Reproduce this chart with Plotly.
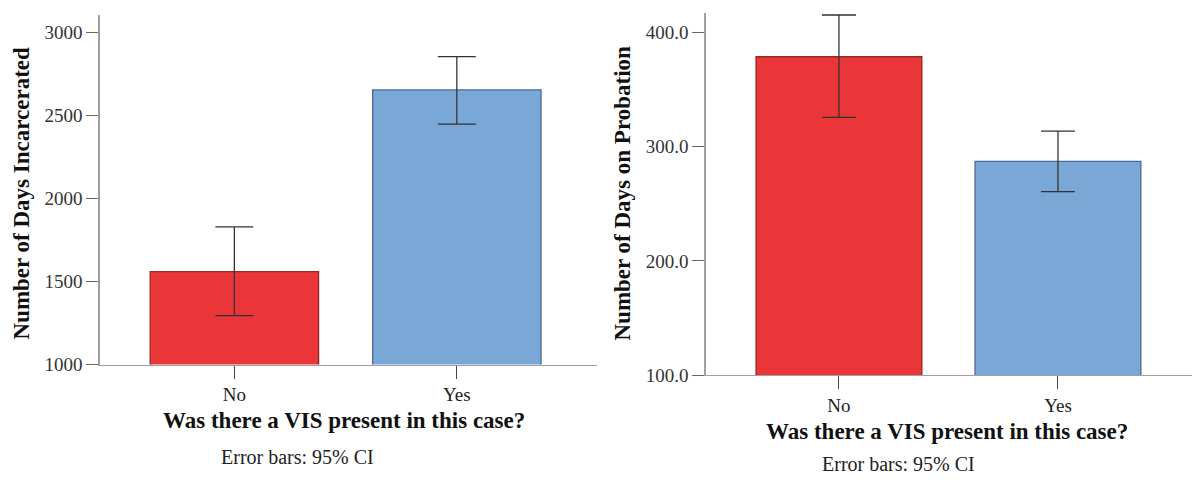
import plotly.graph_objects as go
from plotly.subplots import make_subplots

categories = ["No", "Yes"]
incarcerated_mean = [1559, 2653]
incarcerated_ci_low = [1294, 2447]
incarcerated_ci_high = [1829, 2853]
probation_mean = [378.5, 287.0]
probation_ci_low = [325.5, 260.5]
probation_ci_high = [415.0, 313.5]
bar_colors = ["rgb(234,54,56)", "rgb(121,167,214)"]
bar_edges = ["rgb(150,40,40)", "rgb(75,105,145)"]

W, H = 1192, 485
def px(x): return x / W
def py(y): return 1 - y / H

fig = make_subplots(rows=1, cols=2)
xs = [0, 1]

def add_bars(means, lo, hi, col, cap):
    fig.add_trace(go.Bar(
        x=xs, y=means, width=0.757,
        marker=dict(color=bar_colors, line=dict(color=bar_edges, width=1.3)),
        error_y=dict(type="data", symmetric=False,
                     array=[h - m for h, m in zip(hi, means)],
                     arrayminus=[m - l for l, m in zip(lo, means)],
                     color="#333333", thickness=1.3, width=cap),
        showlegend=False, hoverinfo="skip"), row=1, col=col)

add_bars(incarcerated_mean, incarcerated_ci_low, incarcerated_ci_high, 1, 19)
add_bars(probation_mean, probation_ci_low, probation_ci_high, 2, 17)

font = "Liberation Serif"
axis_col = "#a0a0a0"
common_x = dict(tickvals=xs, ticktext=categories, ticks="outside", ticklen=13,
                tickcolor="#444", tickwidth=1.3, showline=True, linecolor=axis_col,
                linewidth=1.3, showgrid=False, zeroline=False,
                tickfont=dict(family=font, size=19, color="#222"))
common_y = dict(ticks="outside", ticklen=12, tickcolor="#666", showline=True,
                linecolor=axis_col, linewidth=1.5, showgrid=False, zeroline=False,
                tickfont=dict(family=font, size=19, color="#333"))

fig.update_xaxes(domain=[px(100), px(597)], range=[-0.604, 1.63], **common_x, row=1, col=1)
fig.update_xaxes(domain=[px(706), px(1192)], range=[-0.607, 1.612], **common_x, row=1, col=2)
fig.update_yaxes(domain=[py(373), py(15)], range=[1000, 3106],
                 tickvals=[1000, 1500, 2000, 2500, 3000], **common_y, row=1, col=1)
fig.update_yaxes(domain=[py(384), py(13)], range=[100, 417],
                 tickvals=[100, 200, 300, 400], tickformat=".1f", **common_y, row=1, col=2)

def note(text, x, y, size, angle=0, color="#111"):
    return dict(text=text, x=px(x), y=py(y), textangle=angle,
                font=dict(family=font, size=size, color=color), showarrow=False,
                xref="paper", yref="paper", xanchor="center", yanchor="middle")

ann = [
    note("<b>Number of Days Incarcerated</b>", 22, 198, 23, -90),
    note("<b>Number of Days on Probation</b>", 623, 198, 23, -90),
    note("<b>Was there a VIS present in this case?</b>", 344, 430, 23),
    note("<b>Was there a VIS present in this case?</b>", 947, 442, 23),
    note("Error bars: 95% CI", 297, 468, 20, color="#222"),
    note("Error bars: 95% CI", 898, 475, 20, color="#222"),
]

fig.update_layout(width=W, height=H, margin=dict(l=0, r=0, t=0, b=0),
                  plot_bgcolor="white", paper_bgcolor="white",
                  annotations=ann)

fig.write_html("out.html", config={"displayModeBar": False},
               post_script="document.documentElement.style.margin='0';document.body.style.margin='0';document.body.style.overflow='hidden';")
